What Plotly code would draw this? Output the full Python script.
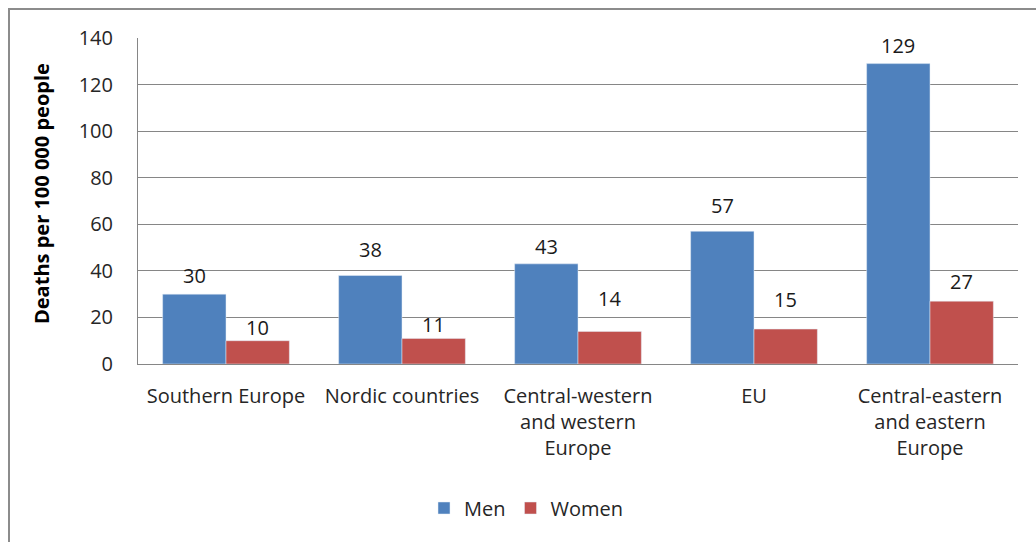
import plotly.graph_objects as go

categories = ["Southern Europe", "Nordic countries", "Central-western<br>and western<br>Europe", "EU", "Central-eastern<br>and eastern<br>Europe"]
men = [30, 38, 43, 57, 129]
women = [10, 11, 14, 15, 27]
y_ticks = [0, 20, 40, 60, 80, 100, 120, 140]

# label distance above bar top (px), as placed in the original chart
men_label_gap = [19, 26, 17, 26, 18]
women_label_gap = [13, 14, 33, 30, 20]

FONT = "Open Sans, Liberation Sans, sans-serif"
W, H = 1036, 542
L, R, T, B = 138, 18, 38, 178
pw, ph = W - L - R, H - T - B
BARGAP = 0.28
bar_px = pw / len(categories) * (1 - BARGAP) / 2

def px(x):
    return (x - L) / pw

def py(y):
    return (H - B - y) / ph

fig = go.Figure()
fig.add_trace(go.Bar(name="Men", x=categories, y=men, marker_color="#4F81BD"))
fig.add_trace(go.Bar(name="Women", x=categories, y=women, marker_color="#C0504D"))

annotations = []
for cat, v, g in zip(categories, men, men_label_gap):
    annotations.append(dict(x=cat, y=v, xref="x", yref="y", text=str(v), showarrow=False,
                            xshift=-bar_px / 2, yshift=g, yanchor="middle", xanchor="center",
                            font=dict(size=20, color="#1a1a1a", family=FONT)))
for cat, v, g in zip(categories, women, women_label_gap):
    annotations.append(dict(x=cat, y=v, xref="x", yref="y", text=str(v), showarrow=False,
                            xshift=bar_px / 2, yshift=g, yanchor="middle", xanchor="center",
                            font=dict(size=20, color="#1a1a1a", family=FONT)))
annotations.append(dict(text="<b>Deaths per 100 000 people</b>", xref="paper", yref="paper",
                        x=px(41), y=py(194), textangle=-90, showarrow=False,
                        font=dict(size=20, color="#000000"), xanchor="center", yanchor="middle"))

fig.update_layout(
    width=W, height=H,
    margin=dict(l=L, r=R, t=T, b=B),
    barmode="group", bargap=BARGAP, bargroupgap=0,
    plot_bgcolor="white", paper_bgcolor="white",
    font=dict(family=FONT, size=20, color="#262626"),
    showlegend=True,
    legend=dict(orientation="h", x=px(526), y=py(508), xanchor="center", yanchor="middle",
                font=dict(size=20, color="#262626"), itemwidth=30),
    xaxis=dict(showline=True, linecolor="#868686", linewidth=1, ticks="", tickfont=dict(size=20),
               ticklabelstandoff=14),
    yaxis=dict(range=[0, 140], tickvals=y_ticks, showgrid=True, gridcolor="#868686", gridwidth=1,
               showline=True, linecolor="#868686", linewidth=1, zeroline=False,
               tickfont=dict(size=20), ticklabelstandoff=20),
    shapes=[dict(type="rect", xref="paper", yref="paper", x0=px(9), x1=px(1045), y0=py(560), y1=py(9),
                 line=dict(color="#8c8c8c", width=2), fillcolor="rgba(0,0,0,0)", layer="below")],
    annotations=annotations,
)

fig.write_html("out.html", config={"displayModeBar": False},
               post_script="document.body.style.margin='0';document.body.style.padding='0';")
